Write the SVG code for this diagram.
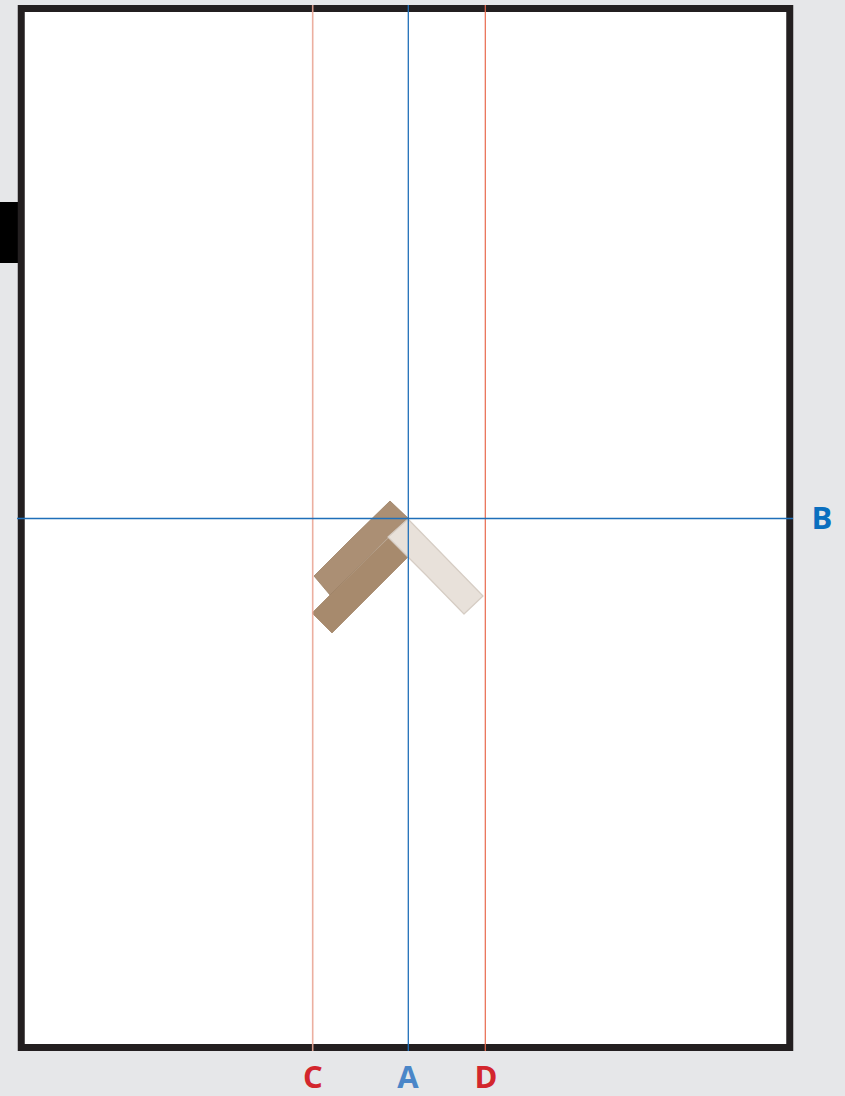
<svg xmlns="http://www.w3.org/2000/svg" width="845" height="1096" viewBox="0 0 845 1096">
<style>
.lbl{font-family:"Open Sans","Liberation Sans",sans-serif;font-weight:bold;font-size:31px;text-anchor:middle}
.red{fill:#d3262d}
.blue{fill:#4a86c8}
.blueB{fill:#0a6fbf}
.plank{stroke-linejoin:round}
</style>
<rect x="0" y="0" width="845" height="1096" fill="#e6e7e9"/>
<rect x="0" y="202" width="18" height="61" fill="#000"/>
<rect x="21.25" y="8.5" width="768.5" height="1039" fill="#ffffff" stroke="#231f20" stroke-width="7"/>
<g id="planks">
  <g id="lower-plank">
    <path class="plank" d="M312,613 L330,595 L408,519 L408,557 L370,595 L332,633 Z" fill="#a78a6d" stroke="#a3866a" stroke-width="0.8"/>
  </g>
  <g id="upper-plank">
    <path class="plank" d="M314,576 L352,538 L390,501 L408,518 L369,556 L330,595 Z" fill="#ab8f74" stroke="#9c8065" stroke-width="0.8"/>
  </g>
  <g id="light-plank">
    <path class="plank" d="M408,519 L445,557 L483,596 L464,614 L426,575 L388,537 Z" fill="#e8e1da" stroke="#d6cdc4" stroke-width="1.2"/>
  </g>
</g>
<g id="guides">
  <line x1="312.7" y1="5" x2="312.7" y2="1051" stroke="#eaa796" stroke-width="1.6" opacity="0.9"/>
  <line x1="485.3" y1="5" x2="485.3" y2="1051" stroke="#e8694c" stroke-width="1.2"/>
  <line x1="408.3" y1="5" x2="408.3" y2="1051" stroke="#1f6fb9" stroke-width="1.3"/>
  <line x1="17" y1="518.5" x2="793" y2="518.5" stroke="#1f6fb9" stroke-width="1.3"/>
</g>
<g id="labels">
  <text class="lbl red" x="313" y="1087.5">C</text>
  <text class="lbl blue" x="408" y="1087.5">A</text>
  <text class="lbl red" x="486" y="1087.5">D</text>
  <text class="lbl blueB" x="822" y="529">B</text>
</g>
</svg>
